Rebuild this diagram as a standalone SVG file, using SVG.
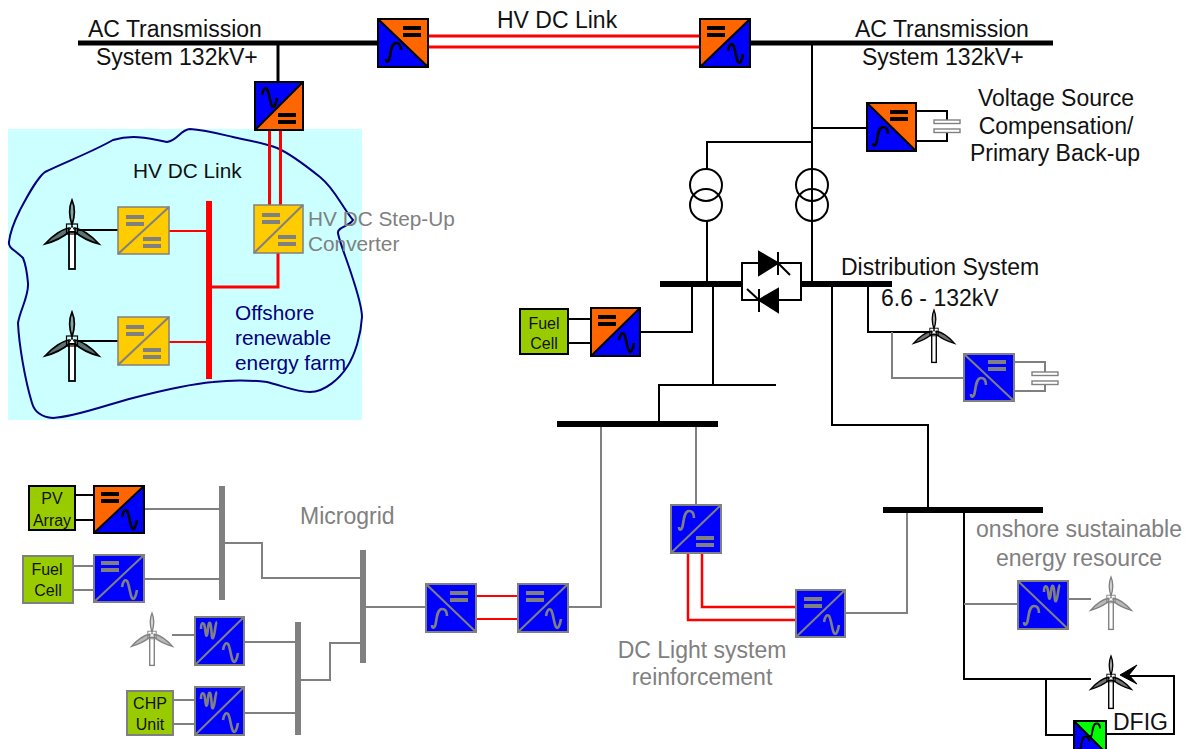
<svg xmlns="http://www.w3.org/2000/svg" width="1191" height="749" viewBox="0 0 1191 749">
<style>
text{font-family:"Liberation Sans",Arial,sans-serif;font-size:23px;fill:#111}
.g{fill:#808080}.n{fill:#000080}.s{font-size:16px;text-anchor:middle}
.m{text-anchor:middle}.f{font-size:20.800px}
.k{stroke:#000;fill:none;stroke-width:2}
.y{stroke:#808080;fill:none;stroke-width:2}
.r{stroke:#f00;fill:none;stroke-width:3}
.bg{fill:#808080}.br{fill:#f00}
.wave{fill:none;stroke:currentColor;stroke-width:2.600}
</style>
<defs>
<g id="eq"><rect x="-9" y="-6" width="18" height="4" fill="currentColor"/><rect x="-9" y="1" width="18" height="4" fill="currentColor"/></g>
<path id="sin" class="wave" d="M-7-2C-6-8-4-10-2-8S1 6 3 9S7 7 8 1"/>
<path id="sin2" class="wave" d="M-8 7C-8 11-5 11-4 4S-2-9 2-9S7-6 7-2"/>
<path id="multi" class="wave" d="M-8-2C-8-9-5-10-4-3S-3 6-2 4S-1-10 1-8S2 9 4 7S6-8 8-9"/>
<g id="turbine" stroke="currentColor">
<rect x="-3" y="3" width="6" height="37" fill="#fff" stroke-width="1.800"/>
<rect x="-5.500" y="-5" width="11" height="10" fill="none" stroke-width="1.200"/>
<path d="M0-4C-3-13-3-22 0-29C3-22 3-13 0-4Z" fill="currentColor" fill-opacity=".35" stroke-width="1.700"/>
<path d="M-3-1C-9 0-19 6-27 15C-20 13-10 9-3 3Z" fill="currentColor" fill-opacity=".55" stroke-width="1.700"/>
<path d="M3-1C9 0 19 6 27 15C20 13 10 9 3 3Z" fill="currentColor" fill-opacity=".55" stroke-width="1.700"/>
<path d="M0-3L3.500 2.500H-3.500Z" fill="#fff" stroke-width="1"/>
</g>
<g id="cap"><rect x="-13" y="-5" width="26" height="3.500" fill="#fff" stroke="currentColor" stroke-width="1.400"/><rect x="-13" y="4" width="26" height="3.500" fill="#fff" stroke="currentColor" stroke-width="1.400"/></g>
<g id="xfmr" fill="none" stroke="#000" stroke-width="2"><circle cy="-10" r="16"/><circle cy="10" r="16"/></g>
</defs>
<rect x="8" y="129" width="354" height="291" fill="#ccffff"/>
<path d="M190 129C205 130 220 134 233 137S265 143 277 148S305 165 320 177S342 207 353 220C350 226 337 227 338 233C339 240 345 255 350 270S362 305 362 317C361 335 355 355 347 367C340 378 325 392 310 392C297 392 283 386 267 382C250 380 230 380 213 382C190 384 160 391 133 398S75 417 53 418C40 417 34 410 32 403C25 380 19 345 18 323C20 310 29 296 28 283C27 272 26 265 23 258C15 250 8 248 9 242C10 232 15 220 20 210C28 195 37 178 45 172C65 162 90 153 113 140C130 135 145 137 167 142C178 140 180 130 190 129Z" fill="none" stroke="#000080" stroke-width="2"/>
<g id="connectors" fill="none">
<path d="M78 43H378M750 43H1053" stroke="#000" stroke-width="5"/>
<path class="k" d="M278 43V82" style="stroke-width:3"/>
<path class="k" d="M812 43V282M811 128H867M707 170V142H812M707 221V282M812 221V282"/>
<path class="k" d="M916 111H947V122M947 131V141H916"/>
<path d="M428 36H700M428 47H700M269.500 130V205M280.500 130V205" class="r"/>
<path class="k" d="M78 230H118M78 341H118"/>
<path d="M169 231H206M169 342H206" stroke="#f00" stroke-width="2"/>
<path d="M212 287H278V253" class="r"/>
<path d="M660 284H742M801 284H892" stroke="#000" stroke-width="6"/>
<path class="k" d="M742 284V263H801V284M742 284V300H801V284"/>
<path class="k" d="M692 284V332H640M568 319H591M568 343H591"/>
<path class="k" d="M713 284V385M659 424V385H776M832 284V425H928V510M868 284V332H930"/>
<path class="y" d="M892 332V378H964M1014 362H1045V372M1045 385V391H1014"/>
<path d="M557 424H718M883 510H1043" stroke="#000" stroke-width="6"/>
<path class="y" d="M601 427V607H568M696 427V505M845 613H907V513"/>
<path class="r" style="stroke-width:2.500" d="M688 553V620H796M702 553V607H796"/>
<path class="k" d="M964 513V679H1091M1046 679V735H1074M1106 734H1174V676H1128"/>
<path class="y" d="M964 604H1018M1068 599H1091"/>
<path class="y" d="M144 509H219M144 579H219M225 543H262V578H360M366 607H426M172 635H195M244 642H295M244 713H295M301 680H330V643H360M73 566H94M73 590H94M173 700H195M173 724H195"/>
<path class="k" d="M75 495H94M75 520H94"/>
<path d="M476 596H518M476 619H518" stroke="#f00" stroke-width="2"/>
<path d="M1120 675L1137 665L1129 675L1137 684Z" fill="#000" stroke="#000"/>
<rect class="bg" x="219" y="486" width="6" height="114"/>
<rect class="bg" x="360" y="550" width="6" height="113"/>
<rect class="bg" x="295" y="622" width="6" height="113"/>
<rect class="br" x="206" y="201" width="6" height="178"/>
</g>
<g id="conv-top-left"><rect x="378" y="19" width="50" height="48" fill="#00f"/><path d="M378 19H428V67Z" fill="#f60"/><rect x="378" y="19" width="50" height="48" fill="none" stroke="#000" stroke-width="2"/><path d="M378 19L428 67" stroke="#000" stroke-width="2"/><use href="#eq" x="412" y="32" color="#000"/><use href="#sin2" x="394" y="52" color="#000"/></g>
<g id="conv-top-right"><rect x="700" y="19" width="50" height="48" fill="#00f"/><path d="M700 19H750L700 67Z" fill="#f60"/><rect x="700" y="19" width="50" height="48" fill="none" stroke="#000" stroke-width="2"/><path d="M700 67L750 19" stroke="#000" stroke-width="2"/><use href="#eq" x="716" y="32" color="#000"/><use href="#sin" x="735" y="53" color="#000"/></g>
<g id="conv-farm"><rect x="255" y="82" width="48" height="48" fill="#f60"/><path d="M255 82H303L255 130Z" fill="#00f"/><rect x="255" y="82" width="48" height="48" fill="none" stroke="#000" stroke-width="2"/><path d="M255 130L303 82" stroke="#000" stroke-width="2"/><use href="#eq" x="287" y="119" color="#000"/><use href="#sin" x="269" y="97" color="#000"/></g>
<g id="yellow-1"><rect x="118" y="207" width="51" height="47" fill="#fc0" stroke="#808080" stroke-width="1.500"/><path d="M118 254L169 207" stroke="#808080" stroke-width="2"/><use href="#eq" x="135" y="221" color="#808080"/><use href="#eq" x="152" y="243" color="#808080"/></g>
<g id="yellow-2"><rect x="254" y="205" width="49" height="48" fill="#fc0" stroke="#808080" stroke-width="1.500"/><path d="M254 253L303 205" stroke="#808080" stroke-width="2"/><use href="#eq" x="271" y="219" color="#808080"/><use href="#eq" x="287" y="241" color="#808080"/></g>
<g id="yellow-3"><rect x="118" y="317" width="51" height="48" fill="#fc0" stroke="#808080" stroke-width="1.500"/><path d="M118 365L169 317" stroke="#808080" stroke-width="2"/><use href="#eq" x="135" y="331" color="#808080"/><use href="#eq" x="152" y="354" color="#808080"/></g>
<g id="wt-1"><use href="#turbine" x="72" y="229" color="#000"/></g>
<g id="wt-2"><use href="#turbine" x="72" y="341" color="#000"/></g>
<g id="conv-vsc"><rect x="867" y="103" width="49" height="48" fill="#00f"/><path d="M867 103H916V151Z" fill="#f60"/><rect x="867" y="103" width="49" height="48" fill="none" stroke="#000" stroke-width="2"/><path d="M867 103L916 151" stroke="#000" stroke-width="2"/><use href="#eq" x="899" y="116" color="#000"/><use href="#sin2" x="881" y="136" color="#000"/></g>
<g id="cap-vsc"><use href="#cap" x="947" y="125" color="#808080"/></g>
<g id="t-1"><use href="#xfmr" x="706" y="195"/></g>
<g id="t-2"><use href="#xfmr" x="812" y="195"/></g>
<g id="thyristors"><path d="M759 252V275L778 263Z M778 252V275M778 263L790 275" fill="#000" stroke="#000" stroke-width="2"/><path d="M778 289V312L759 300Z M759 289V312M759 300L747 289" fill="#000" stroke="#000" stroke-width="2"/></g>
<g id="fuel-mid"><rect x="520" y="309" width="48" height="45" fill="#9c0" stroke="#000" stroke-width="2"/><text class="s" x="544" y="329">Fuel</text><text class="s" x="544" y="349">Cell</text></g>
<g id="conv-fuel-mid"><rect x="591" y="308" width="49" height="48" fill="#00f"/><path d="M591 308H640L591 356Z" fill="#f60"/><rect x="591" y="308" width="49" height="48" fill="none" stroke="#000" stroke-width="2"/><path d="M591 356L640 308" stroke="#000" stroke-width="2"/><use href="#eq" x="607" y="321" color="#000"/><use href="#sin" x="626" y="342" color="#000"/></g>
<g id="wt-dist"><use href="#turbine" transform="translate(934 332) scale(.76)" color="#000"/></g>
<g id="conv-dist"><rect x="964" y="354" width="50" height="47" fill="#00f" stroke="#808080" stroke-width="2"/><path d="M964 354L1014 401" stroke="#808080" stroke-width="2"/><use href="#eq" x="997" y="366" color="#808080"/><use href="#sin2" x="979" y="387" color="#808080"/></g>
<g id="cap-dist"><use href="#cap" x="1045" y="377" color="#808080"/></g>
<g id="conv-dc1"><rect x="671" y="505" width="50" height="48" fill="#00f" stroke="#808080" stroke-width="2"/><path d="M671 553L721 505" stroke="#808080" stroke-width="2"/><use href="#sin2" x="687" y="520" color="#808080"/><use href="#eq" x="705" y="542" color="#808080"/></g>
<g id="conv-dc2"><rect x="796" y="590" width="49" height="47" fill="#00f" stroke="#808080" stroke-width="2"/><path d="M796 637L845 590" stroke="#808080" stroke-width="2"/><use href="#eq" x="813" y="603" color="#808080"/><use href="#sin" x="831" y="624" color="#808080"/></g>
<g id="conv-on"><rect x="1018" y="581" width="50" height="48" fill="#00f" stroke="#808080" stroke-width="2"/><path d="M1018 581L1068 629" stroke="#808080" stroke-width="2"/><use href="#multi" x="1052" y="594" color="#808080"/><use href="#sin2" x="1032" y="615" color="#808080"/></g>
<g id="wt-on"><use href="#turbine" transform="translate(1111 599) scale(.76)" color="#808080"/></g>
<g id="wt-dfig"><use href="#turbine" transform="translate(1111 678) scale(.76)" color="#000"/></g>
<g id="conv-dfig"><rect x="1074" y="721" width="32" height="32" fill="#00f"/><path d="M1074 721H1106V753Z" fill="#0f0"/><rect x="1074" y="721" width="32" height="32" fill="none" stroke="#000" stroke-width="2"/><path d="M1074 721L1106 753" stroke="#000" stroke-width="2"/><use href="#sin2" transform="translate(1095 730) scale(.72)" color="#000"/><use href="#sin2" transform="translate(1084 743) scale(.72)" color="#000"/></g>
<g id="pv"><rect x="29" y="486" width="46" height="44" fill="#9c0" stroke="#000" stroke-width="2"/><text class="s" x="52" y="504">PV</text><text class="s" x="52" y="526">Array</text></g>
<g id="conv-pv"><rect x="94" y="486" width="50" height="47" fill="#00f"/><path d="M94 486H144L94 533Z" fill="#f60"/><rect x="94" y="486" width="50" height="47" fill="none" stroke="#000" stroke-width="2"/><path d="M94 533L144 486" stroke="#000" stroke-width="2"/><use href="#eq" x="110" y="498" color="#000"/><use href="#sin" x="129" y="519" color="#000"/></g>
<g id="fuel-micro"><rect x="23" y="556" width="50" height="47" fill="#9c0" stroke="#808080" stroke-width="2"/><text class="s" x="47" y="575">Fuel</text><text class="s" x="48" y="596">Cell</text></g>
<g id="conv-fuel-micro"><rect x="94" y="555" width="50" height="47" fill="#00f" stroke="#808080" stroke-width="2"/><path d="M94 602L144 555" stroke="#808080" stroke-width="2"/><use href="#eq" x="110" y="567" color="#808080"/><use href="#sin" x="129" y="589" color="#808080"/></g>
<g id="wt-micro"><use href="#turbine" transform="translate(152 635) scale(.76)" color="#808080"/></g>
<g id="conv-wt-micro"><rect x="195" y="617" width="49" height="48" fill="#00f" stroke="#808080" stroke-width="2"/><path d="M195 665L244 617" stroke="#808080" stroke-width="2"/><use href="#multi" x="209" y="631" color="#808080"/><use href="#sin" x="230" y="652" color="#808080"/></g>
<g id="chp"><rect x="127" y="691" width="46" height="44" fill="#9c0" stroke="#808080" stroke-width="2"/><text class="s" x="150" y="709">CHP</text><text class="s" x="150" y="730">Unit</text></g>
<g id="conv-chp"><rect x="195" y="687" width="49" height="48" fill="#00f" stroke="#808080" stroke-width="2"/><path d="M195 735L244 687" stroke="#808080" stroke-width="2"/><use href="#multi" x="209" y="701" color="#808080"/><use href="#sin" x="230" y="722" color="#808080"/></g>
<g id="conv-link-1"><rect x="426" y="584" width="50" height="48" fill="#00f" stroke="#808080" stroke-width="2"/><path d="M426 584L476 632" stroke="#808080" stroke-width="2"/><use href="#eq" x="459" y="597" color="#808080"/><use href="#sin2" x="440" y="618" color="#808080"/></g>
<g id="conv-link-2"><rect x="518" y="584" width="50" height="48" fill="#00f" stroke="#808080" stroke-width="2"/><path d="M518 632L568 584" stroke="#808080" stroke-width="2"/><use href="#eq" x="535" y="597" color="#808080"/><use href="#sin" x="553" y="618" color="#808080"/></g>
<g id="labels">
<text x="88" y="37">AC Transmission</text>
<text x="96" y="65">System 132kV+</text>
<text x="497" y="28">HV DC Link</text>
<text x="855" y="37">AC Transmission</text>
<text x="862" y="65">System 132kV+</text>
<text class="m" x="1056" y="106">Voltage Source</text>
<text class="m" x="1056" y="134">Compensation/</text>
<text class="m" x="1055" y="161">Primary Back-up</text>
<text class="f" x="133" y="178">HV DC Link</text>
<text class="g f" x="308" y="226">HV DC Step-Up</text>
<text class="g f" x="308" y="251">Converter</text>
<text class="n f" x="235" y="320">Offshore</text>
<text class="n f" x="235" y="345">renewable</text>
<text class="n f" x="235" y="370">energy farm</text>
<text x="841" y="275">Distribution System</text>
<text x="881" y="306">6.6 - 132kV</text>
<text class="g" x="300" y="524">Microgrid</text>
<text class="g m" x="1079" y="537">onshore sustainable</text>
<text class="g m" x="1079" y="566">energy resource</text>
<text class="g m" x="702" y="658">DC Light system</text>
<text class="g m" x="702" y="685">reinforcement</text>
<text x="1113" y="730">DFIG</text>
</g>
</svg>
